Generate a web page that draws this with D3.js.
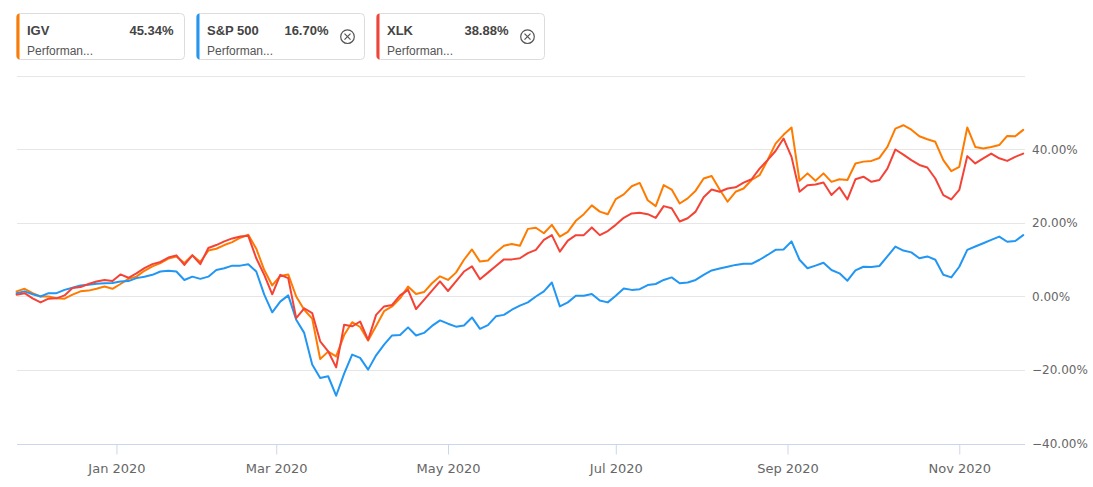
<!DOCTYPE html>
<html><head><meta charset="utf-8">
<script src="https://cdn.jsdelivr.net/npm/d3@7/dist/d3.min.js"></script>
<style>html,body{margin:0;padding:0;background:#fff}svg{display:block}</style>
</head><body>
<svg id="chart" width="1093" height="487"></svg>
<script>
// ---- data (one sample every 2 trading days, Nov 2019 - Nov 2020, % performance) ----
const seriesNames = ["IGV", "S&P 500", "XLK"];
const seriesColors = ["#ff7b00", "#2196f3", "#f44336"];
const finalLabels = ["45.34%", "16.70%", "38.88%"];
const subLabel = "Performan...";
const sampleStepDays = 2;

const igv = [1.4,2.1,0.9,0.0,0.0,-0.5,-0.6,0.5,1.4,1.6,2.1,2.7,2.1,3.4,4.8,5.4,7.0,8.2,9.1,10.3,
10.9,9.1,11.2,9.4,12.5,13.0,14.0,14.8,16.0,16.8,13.0,7.2,3.0,5.6,6.0,0.0,-3.6,-6.0,-17.0,-15.0,
-16.3,-10.5,-7.0,-8.3,-12.0,-8.0,-4.0,-2.7,-0.5,2.7,0.7,1.2,3.6,5.5,4.5,6.5,10.0,12.8,9.5,9.8,
12.0,13.8,14.3,13.8,18.4,18.7,17.2,19.5,16.3,17.6,20.6,22.4,24.8,23.1,22.4,26.5,27.8,30.0,30.9,26.2,
24.6,30.3,29.1,25.3,26.7,28.8,32.1,32.8,29.1,25.8,28.5,29.4,31.7,33.0,37.1,41.6,44.0,46.0,31.5,33.5,
31.5,33.5,31.2,31.9,31.7,36.2,36.7,36.9,37.7,40.7,45.7,46.6,45.4,43.6,42.8,42.1,37.1,34.1,35.3,46.0,
40.7,40.3,40.7,41.2,43.7,43.6,45.34];

const spx = [0.9,1.4,0.6,0.0,0.9,0.9,1.8,2.4,3.0,3.2,3.5,3.6,3.7,4.1,4.2,5.0,5.4,5.9,6.8,7.0,
6.8,4.5,5.4,4.8,5.4,7.2,7.7,8.4,8.4,8.8,6.8,0.5,-4.3,-1.4,0.3,-6.3,-9.9,-18.5,-22.2,-21.7,
-27.0,-21.0,-15.8,-16.7,-19.9,-16.0,-13.1,-10.6,-10.5,-8.4,-10.6,-9.9,-8.0,-6.5,-7.4,-8.2,-7.9,-5.7,-8.8,-7.8,
-5.4,-5.0,-3.6,-2.5,-1.6,0.0,1.4,3.8,-2.7,-1.6,0.2,0.2,0.7,-1.1,-1.6,0.2,2.2,1.8,2.0,3.1,
3.4,4.5,5.2,3.6,3.8,4.5,5.9,7.1,7.6,8.1,8.6,8.9,8.9,10.0,11.3,12.7,12.8,15.0,10.0,7.7,
8.4,9.2,7.2,6.3,4.3,7.1,8.1,8.0,8.3,10.9,13.6,12.5,12.0,10.4,10.9,10.0,5.9,5.2,8.1,12.7,
13.6,14.5,15.4,16.3,14.9,15.1,16.70];

const xlk = [0.5,0.9,-0.5,-1.6,-0.6,-0.5,0.3,2.3,2.6,3.4,4.1,4.5,4.2,6.0,5.1,6.3,7.7,8.8,9.4,10.6,
11.2,8.6,11.2,8.8,13.2,14.0,15.0,15.8,16.3,16.5,10.4,5.9,0.6,5.9,5.0,-5.9,-3.2,-4.5,-12.2,-14.9,
-19.3,-7.7,-8.1,-6.8,-11.8,-5.0,-2.7,-2.3,0.3,1.8,-3.4,-0.9,1.6,4.1,1.5,4.1,6.8,8.2,4.7,6.5,
8.3,10.1,10.1,10.4,11.8,12.7,15.4,16.7,12.2,15.2,16.7,16.7,18.8,16.7,17.8,19.5,21.4,22.6,22.8,22.4,
21.4,24.6,24.0,20.4,21.3,23.1,27.0,29.1,28.5,29.4,29.7,31.0,31.9,34.8,37.1,39.6,43.0,38.0,28.5,30.3,
30.5,31.0,27.6,29.7,26.4,31.9,32.6,31.2,31.7,34.8,40.0,38.6,37.1,35.8,35.1,32.1,27.6,26.4,29.0,38.2,
36.2,37.6,38.9,37.6,36.9,38.0,38.88];

const tickDays = [25, 65, 108, 150, 193, 236];
const tickLabels = ["Jan 2020", "Mar 2020", "May 2020", "Jul 2020", "Sep 2020", "Nov 2020"];
const yTickValues = [-40, -20, 0, 20, 40, 60];
const yLabelValues = [-40, -20, 0, 20, 40];

// ---- chart ----
const svg = d3.select("#chart");
const plotLeft = 17, plotRight = 1025;
const totalDays = (igv.length - 1) * sampleStepDays;
const x = d3.scaleLinear().domain([0, totalDays]).range([16.6, 1023.2]);
const y = d3.scaleLinear().domain([-40, 60]).range([443.5, 76]);

// grid
svg.append("g").selectAll("line").data(yTickValues.filter(v => v !== -40)).join("line")
  .attr("x1", plotLeft).attr("x2", plotRight)
  .attr("y1", d => Math.round(y(d)) + 0.5).attr("y2", d => Math.round(y(d)) + 0.5)
  .attr("stroke", "#e6e6e6").attr("stroke-width", 1);

// y labels
svg.append("g").selectAll("text").data(yLabelValues).join("text")
  .attr("x", 1032).attr("y", d => y(d)).attr("dy", "0.36em")
  .attr("font-family", "DejaVu Sans").attr("font-size", 12).attr("fill", "#666")
  .text(d => (d < 0 ? "\u2212" : "") + Math.abs(d).toFixed(2) + "%");

// x axis
const xAxis = d3.axisBottom(x).tickValues(tickDays).tickSize(10).tickPadding(9)
  .tickFormat((d, i) => tickLabels[i]);
const gx = svg.append("g").attr("transform", `translate(0,${Math.round(y(-40)) + 0.5})`).call(xAxis);
gx.select(".domain").remove();
gx.insert("line", ":first-child").attr("x1", plotLeft).attr("x2", plotRight).attr("y1", 0).attr("y2", 0)
  .attr("stroke", "#ccd6eb").attr("stroke-width", 1);
gx.selectAll(".tick line").attr("stroke", "#ccd6eb");
gx.selectAll(".tick text").attr("font-family", "DejaVu Sans").attr("font-size", 13).attr("fill", "#666");

// lines
const allSeries = [igv, spx, xlk];
const line = d3.line().x((d, i) => x(i * sampleStepDays)).y(d => y(d));
svg.append("g").selectAll("path").data(allSeries).join("path")
  .attr("d", line).attr("fill", "none")
  .attr("stroke", (d, i) => seriesColors[i]).attr("stroke-width", 2)
  .attr("stroke-linejoin", "round").attr("stroke-linecap", "round");

// legend
const boxX = [16, 196, 376], boxW = 168, boxTop = 13, boxH = 46;
const lg = svg.append("g");
seriesNames.forEach((name, i) => {
  const g = lg.append("g").attr("transform", `translate(${boxX[i]},${boxTop})`);
  g.append("rect").attr("x", 0.5).attr("y", 0.5).attr("width", boxW).attr("height", boxH)
    .attr("rx", 4).attr("fill", "#fff").attr("stroke", "#dcdcdc");
  g.append("path").attr("d", `M4,0.5 A3.5,3.5 0 0 0 0.5,4 L0.5,${boxH - 3.5} A3.5,3.5 0 0 0 4,${boxH + 0.5} L3.5,${boxH + 0.5} L3.5,0.5 Z`)
    .attr("fill", seriesColors[i]);
  g.append("text").attr("x", 11).attr("y", 21.8).attr("font-family", "Liberation Sans, Arial")
    .attr("font-size", 13).attr("font-weight", "bold").attr("fill", "#444").text(name);
  const valRight = i === 0 ? 157.5 : 132.5;
  g.append("text").attr("x", valRight).attr("y", 21.8).attr("text-anchor", "end")
    .attr("font-family", "Liberation Sans, Arial").attr("font-size", 13).attr("font-weight", "bold")
    .attr("fill", "#444").text(finalLabels[i]);
  g.append("text").attr("x", 11).attr("y", 41.5).attr("font-family", "Liberation Sans, Arial")
    .attr("font-size", 12).attr("fill", "#555").text(subLabel);
  if (i > 0) {
    const ic = g.append("g").attr("transform", `translate(151.5,23.7)`)
      .attr("stroke", "#555").attr("fill", "none").attr("stroke-width", 1.2);
    ic.append("circle").attr("r", 6.8);
    ic.append("path").attr("d", "M-3,-3L3,3M3,-3L-3,3");
  }
});
</script>
</body></html>
